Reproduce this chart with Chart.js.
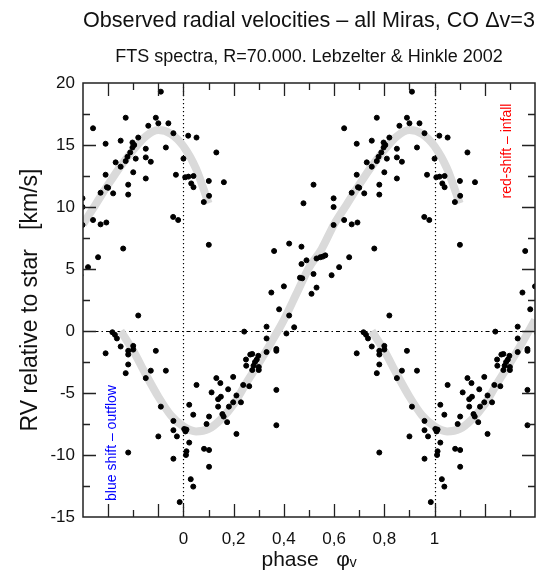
<!DOCTYPE html>
<html>
<head>
<meta charset="utf-8">
<script src="https://cdn.jsdelivr.net/npm/chart.js@4.4.0/dist/chart.umd.min.js"></script>
<style>
  html, body { margin: 0; background: #fff; }
</style>
</head>
<body>
<canvas id="rvChart" width="549" height="577"></canvas>
<script>
// observed points, phase 0..1 (repeated one cycle left/right like the original)
const phaseObs = [
  0.000, 0.007, 0.020, 0.040, 0.031, 0.040, 0.019, 0.052, 0.003, 0.008,
  0.012, 0.023, 0.039, 0.023, 0.012, 0.010, 0.029, 0.039, 0.052, 0.081,
  0.101, 0.102, 0.101, 0.112, 0.102, 0.092, 0.082, 0.102, 0.102, 0.131,
  0.161, 0.131, 0.147, 0.149, 0.138, 0.138, 0.155, 0.160, 0.174, 0.178,
  0.181, 0.198, 0.198, 0.211, 0.211, 0.229, 0.238, 0.262, 0.242, 0.274,
  0.249, 0.266, 0.292, 0.298, 0.279, 0.300, 0.250, 0.274, 0.300, 0.285,
  0.331, 0.331, 0.331, 0.370, 0.370, 0.350, 0.361, 0.381, 0.370, 0.370,
  0.400, 0.410, 0.421, 0.441, 0.421, 0.464, 0.473, 0.470, 0.490, 0.470,
  0.478, 0.510, 0.518, 0.530, 0.530, 0.545, 0.555, 0.565, 0.518, 0.590,
  0.598, 0.598, 0.598, 0.620, 0.640, 0.640, 0.660, 0.670, 0.670, 0.690,
  0.690, 0.693, 0.695, 0.690, 0.700, 0.720, 0.730, 0.750, 0.750, 0.760,
  0.770, 0.770, 0.777, 0.788, 0.797, 0.804, 0.797, 0.780, 0.780, 0.800,
  0.717, 0.727, 0.735, 0.750, 0.780, 0.780, 0.800, 0.800, 0.780, 0.770,
  0.780, 0.820, 0.810, 0.850, 0.850, 0.870, 0.850, 0.860, 0.890, 0.900,
  0.820, 0.850, 0.870, 0.890, 0.910, 0.930, 0.940, 0.960, 0.970, 0.959,
  0.979, 0.910, 0.930, 0.960, 0.960, 0.974, 0.900, 0.960, 0.985
];
const rvObs = [
  13.9, 12.4, 12.45, 12.5, 11.9, 11.6, 15.75, 15.6, -7.9, -8.1,
  -7.95, -5.95, -6.75, -9.0, -9.7, -10.0, -11.95, -12.55, -4.35, 10.4,
  12.1, 10.9, 6.95, -4.95, -6.9, -7.5, -9.5, -9.6, -10.95, 14.4,
  12.0, -3.8, -4.2, -5.3, -5.5, -6.1, -6.7, -6.9, -7.35, -4.7,
  -6.1, -3.7, -5.75, -5.2, -8.3, -5.75, -4.35, -4.45, -0.05, -1.85,
  -2.3, -1.9, -2.3, -2.0, -2.8, -2.9, -2.8, -3.15, -3.15, -2.5,
  0.35, -0.6, -1.7, -1.45, -1.6, 3.1, 6.45, 1.75, -4.75, -7.6,
  3.6, -0.2, 1.25, 0.3, 7.05, 4.3, 4.25, 5.4, 5.7, 6.8,
  10.3, 3.0, 4.6, 3.5, 5.85, 5.95, 6.0, 6.1, 11.8, 4.5,
  10.7, 10.0, 8.55, 5.15, 8.95, 16.35, 5.95, 8.6, 11.15, 15.1,
  12.6, 8.75, 11.6, -1.8, 11.55, 11.1, 13.6, 13.25, 15.35, 6.65,
  13.7, 17.2, 14.05, 14.4, 15.2, 15.0, 14.8, 11.8, 11.0, 12.8,
  -0.1, -0.3, -0.6, -1.25, -1.6, -1.9, -1.2, -1.5, -2.7, -3.4,
  -9.8, 15.6, 13.9, 14.7, 14.0, 13.65, 12.3, 16.55, 17.2, 16.75,
  1.25, -3.8, -3.2, -1.6, 19.3, 14.8, 16.75, 15.95, 12.6, 9.2,
  8.95, -6.1, -3.2, -7.25, -8.0, -8.5, -8.5, -10.3, -13.8
];

// grey mean curve
const curvePhase = [
  -0.25, -0.20, -0.15, -0.10, -0.05, 0.00, 0.05, 0.10, 0.15, 0.20,
  0.25, 0.30, 0.35, 0.40, 0.45, 0.50, 0.55, 0.60, 0.65, 0.70,
  0.75, 0.80, 0.85, 0.90, 0.95, 1.00, 1.05, 1.10
];
const curveRV = [
  0.0, -1.6, -3.5, -5.3, -6.8, -7.7, -8.1, -7.9, -7.1, -5.9,
  -4.2, -2.6, -0.9, 0.9, 3.0, 5.1, 6.6, 8.6, 10.2, 11.8,
  13.3, 14.6, 15.7, 16.2, 15.9, 14.9, 13.1, 10.3
];

const phaseLines = [0, 1];
const xMajor = [-0.3, -0.1, 0, 0.2, 0.4, 0.6, 0.8, 1, 1.2];

const FONT = '"Liberation Sans", Arial, sans-serif';

// points: the cycle plus copies one phase left and right
const obsPoints = [];
phaseObs.forEach((p, i) => {
  obsPoints.push({ x: p, y: rvObs[i] });
  if (p >= 0.58) obsPoints.push({ x: p - 1, y: rvObs[i] });
  if (p <= 0.42) obsPoints.push({ x: p + 1, y: rvObs[i] });
});

const curveMain = curvePhase.map((p, i) => ({ x: p, y: curveRV[i] }));
const curveLeft = curveMain.filter(d => d.x >= 0.6 - 1e-9).map(d => ({ x: d.x - 1, y: d.y }));
const curveRight = curveMain.filter(d => d.x <= 0.4 + 1e-9).map(d => ({ x: d.x + 1, y: d.y }));

function curveSet(data) {
  return {
    data: data,
    showLine: true,
    borderColor: 'rgb(218,218,218)',
    borderWidth: 8,
    pointRadius: 0,
    cubicInterpolationMode: 'monotone',
    order: 2
  };
}

const frame = {
  id: 'frame',
  beforeDatasetsDraw(chart) {
    const { ctx, chartArea: a, scales: { x, y } } = chart;
    ctx.save();
    ctx.strokeStyle = '#000';
    ctx.lineWidth = 1.2;
    ctx.setLineDash([1.3, 2.7]);
    phaseLines.forEach(v => {
      const px = Math.round(x.getPixelForValue(v)) + 0.5;
      ctx.beginPath(); ctx.moveTo(px, a.top); ctx.lineTo(px, a.bottom); ctx.stroke();
    });
    ctx.setLineDash([4, 3, 1.5, 3]);
    const py = Math.round(y.getPixelForValue(0)) + 0.5;
    ctx.beginPath(); ctx.moveTo(a.left, py); ctx.lineTo(a.right, py); ctx.stroke();
    ctx.restore();
  },
  afterDatasetsDraw(chart) {
    const { ctx, chartArea: a, scales: { x, y } } = chart;
    ctx.save();
    ctx.strokeStyle = '#222';
    ctx.lineWidth = 1.5;
    ctx.strokeRect(a.left, a.top, a.right - a.left, a.bottom - a.top);

    // inward ticks
    ctx.lineWidth = 1.3;
    for (let k = -3; k <= 13; k++) {
      const v = k / 10;
      const px = Math.round(x.getPixelForValue(v)) + 0.5;
      const len = xMajor.some(m => Math.abs(m - v) < 1e-6) ? 13 : 7;
      ctx.beginPath();
      ctx.moveTo(px, a.bottom); ctx.lineTo(px, a.bottom - len);
      ctx.moveTo(px, a.top); ctx.lineTo(px, a.top + len);
      ctx.stroke();
    }
    for (let k = -5; k <= 7; k++) {
      const v = k * 2.5;
      const py = Math.round(y.getPixelForValue(v)) + 0.5;
      const len = k % 2 === 0 ? 13 : 7;
      ctx.beginPath();
      ctx.moveTo(a.left, py); ctx.lineTo(a.left + len, py);
      ctx.moveTo(a.right, py); ctx.lineTo(a.right - len, py);
      ctx.stroke();
    }

    // side notes
    ctx.font = '14px ' + FONT;
    ctx.textAlign = 'center';
    ctx.textBaseline = 'middle';
    ctx.fillStyle = '#ff0000';
    ctx.translate(a.right - 28, a.top + 68);
    ctx.rotate(-Math.PI / 2);
    ctx.fillText('red-shift \u2013 infall', 0, 0);
    ctx.restore();

    ctx.save();
    ctx.font = '14px ' + FONT;
    ctx.textAlign = 'center';
    ctx.textBaseline = 'middle';
    ctx.fillStyle = '#0000ff';
    ctx.translate(a.left + 29, a.bottom - 74);
    ctx.rotate(-Math.PI / 2);
    ctx.fillText('blue shift \u2013 outflow', 0, 0);
    ctx.restore();
  }
};

new Chart(document.getElementById('rvChart'), {
  type: 'scatter',
  data: {
    datasets: [
      {
        data: obsPoints,
        backgroundColor: '#000',
        borderColor: '#000',
        borderWidth: 1,
        pointRadius: 2.5,
        pointStyle: 'circle',
        order: 1
      },
      curveSet(curveMain),
      curveSet(curveLeft),
      curveSet(curveRight)
    ]
  },
  options: {
    responsive: false,
    animation: false,
    layout: { padding: { top: 0, right: 14, bottom: 0, left: 0 } },
    plugins: {
      legend: { display: false },
      tooltip: { enabled: false },
      title: {
        display: true,
        fullSize: false,
        text: 'Observed radial velocities \u2013 all Miras, CO \u0394v=3',
        color: '#111',
        font: { family: FONT, size: 22, weight: 'normal' },
        padding: { top: 8, bottom: 0 }
      },
      subtitle: {
        display: true,
        fullSize: false,
        text: 'FTS spectra, R=70.000. Lebzelter & Hinkle 2002',
        color: '#111',
        font: { family: FONT, size: 18 },
        padding: { top: 12, bottom: 15 }
      }
    },
    scales: {
      x: {
        type: 'linear',
        min: -0.4,
        max: 1.4,
        afterFit(scale) { scale.height = 60; },
        grid: { display: false, drawTicks: false },
        border: { display: false },
        ticks: {
          stepSize: 0.2,
          autoSkip: false,
          maxRotation: 0,
          padding: 12,
          color: '#111',
          font: { family: FONT, size: 17 },
          callback: v => {
            const r = Math.round(v * 10) / 10;
            if (r < 0 || r > 1) return '';
            return String(r).replace('.', ',');
          }
        },
        title: {
          display: true,
          text: 'phase   \u03c6\u1d65',
          color: '#111',
          font: { family: FONT, size: 21 },
          padding: { top: 0, bottom: 4 }
        }
      },
      y: {
        min: -15,
        max: 20,
        afterFit(scale) { scale.width = 83; },
        grid: { display: false, drawTicks: false },
        border: { display: false },
        ticks: {
          stepSize: 5,
          padding: 8,
          color: '#111',
          font: { family: FONT, size: 17 }
        },
        title: {
          display: true,
          text: 'RV relative to star   [km/s]',
          color: '#111',
          font: { family: FONT, size: 23 },
          padding: { top: 17, bottom: 0 }
        }
      }
    }
  },
  plugins: [frame]
});
</script>
</body>
</html>
